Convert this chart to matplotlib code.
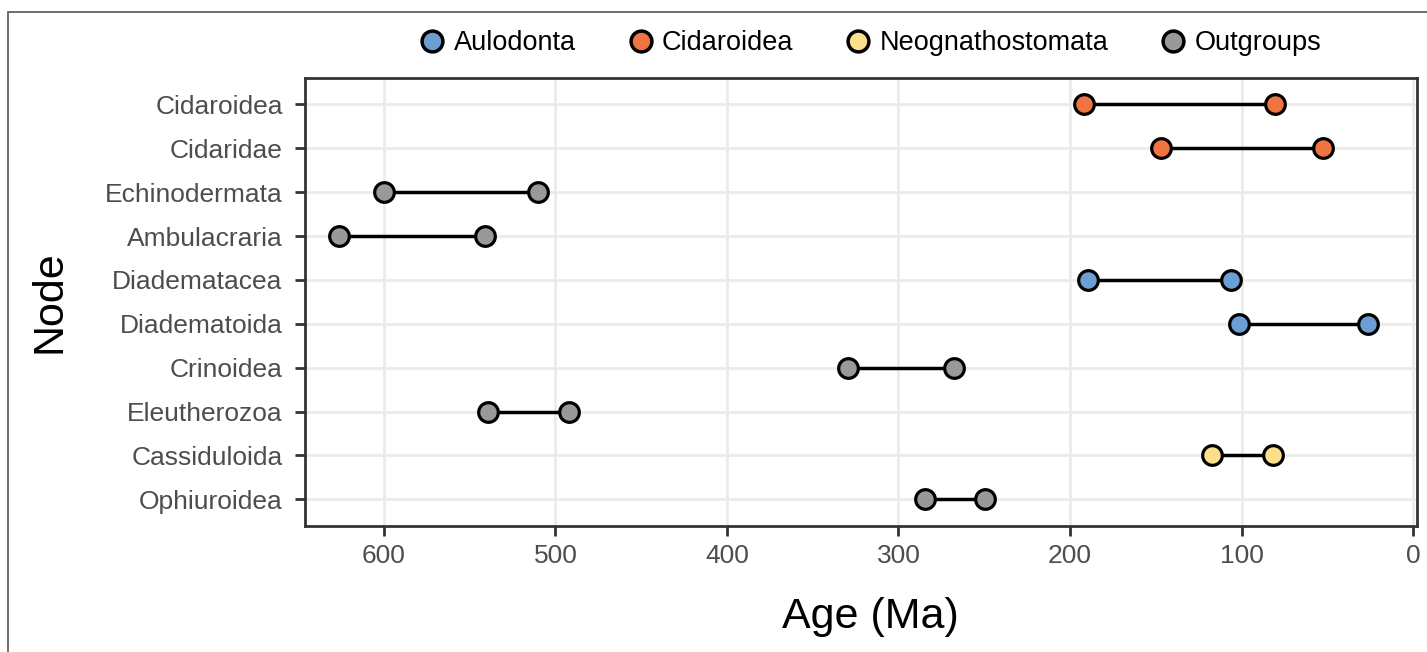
import matplotlib.pyplot as plt
from matplotlib.lines import Line2D
from matplotlib.patches import Rectangle

plt.rcParams['font.family'] = ['Liberation Sans', 'DejaVu Sans']

# node age ranges (Ma), top row first
nodes = ["Cidaroidea", "Cidaridae", "Echinodermata", "Ambulacraria", "Diadematacea",
         "Diadematoida", "Crinoidea", "Eleutherozoa", "Cassiduloida", "Ophiuroidea"]
age_old = [192, 147, 600, 626, 189.5, 101.5, 329.5, 539, 117, 284.5]
age_young = [80.5, 52.5, 510, 541, 106, 26, 267.5, 492, 81.5, 249.5]
group = ["Cidaroidea", "Cidaroidea", "Outgroups", "Outgroups", "Aulodonta",
         "Aulodonta", "Outgroups", "Outgroups", "Neognathostomata", "Outgroups"]

groups = ["Aulodonta", "Cidaroidea", "Neognathostomata", "Outgroups"]
colors = {"Aulodonta": "#6b9fd3", "Cidaroidea": "#f07342",
          "Neognathostomata": "#fcdf8b", "Outgroups": "#999999"}

fig = plt.figure(figsize=(14.27, 6.52), dpi=100)
ax = fig.add_axes([0.2137, 0.1937, 0.993 - 0.2137, 0.8804 - 0.1937])

# outer border (left/top visible only)
fig.patches.append(Rectangle((8 / 1427, -0.1), 1.2, 1.1 - 12 / 652,
                             transform=fig.transFigure, fill=False,
                             edgecolor='#555555', linewidth=1.2, zorder=0))

n = len(nodes)
ys = [n - i for i in range(n)]

ax.hlines(ys, age_old, age_young, color='black', linewidth=2.5, zorder=3)
for y, a, b, g in zip(ys, age_old, age_young, group):
    ax.scatter([a, b], [y, y], s=200, color=colors[g], edgecolor='black',
               linewidth=2.3, zorder=4)

ax.set_xlim(646, -2.3)
ax.set_ylim(0.4, n + 0.6)
ax.set_xticks([600, 500, 400, 300, 200, 100, 0])
ax.set_yticks(ys)
ax.set_yticklabels(nodes)

ax.grid(True, color='#ebebeb', linewidth=2)
ax.set_axisbelow(True)
for s in ax.spines.values():
    s.set_color('#333333')
    s.set_linewidth(2)
ax.tick_params(axis='both', colors='#333333', width=2, length=7,
               labelsize=19, labelcolor='#4d4d4d')
ax.tick_params(axis='y', pad=9)
ax.tick_params(axis='x', pad=6)

ax.set_xlabel("Age (Ma)", fontsize=31, va='center')
ax.xaxis.set_label_coords(0.508, -0.205)
ax.set_ylabel("Node", fontsize=31, va='center')
ax.yaxis.set_label_coords(-0.23, 0.5)

handles = [Line2D([], [], marker='o', linestyle='none', markersize=15,
                  markerfacecolor=colors[g], markeredgecolor='black',
                  markeredgewidth=2.5, label=g) for g in groups]
fig.legend(handles=handles, loc='center', bbox_to_anchor=(0.6097, 1 - 43 / 652),
           ncol=4, frameon=False, fontsize=19.5, handlelength=1.0,
           handletextpad=0.28, columnspacing=1.9, borderaxespad=0)

fig.savefig("out.png", dpi=100)
